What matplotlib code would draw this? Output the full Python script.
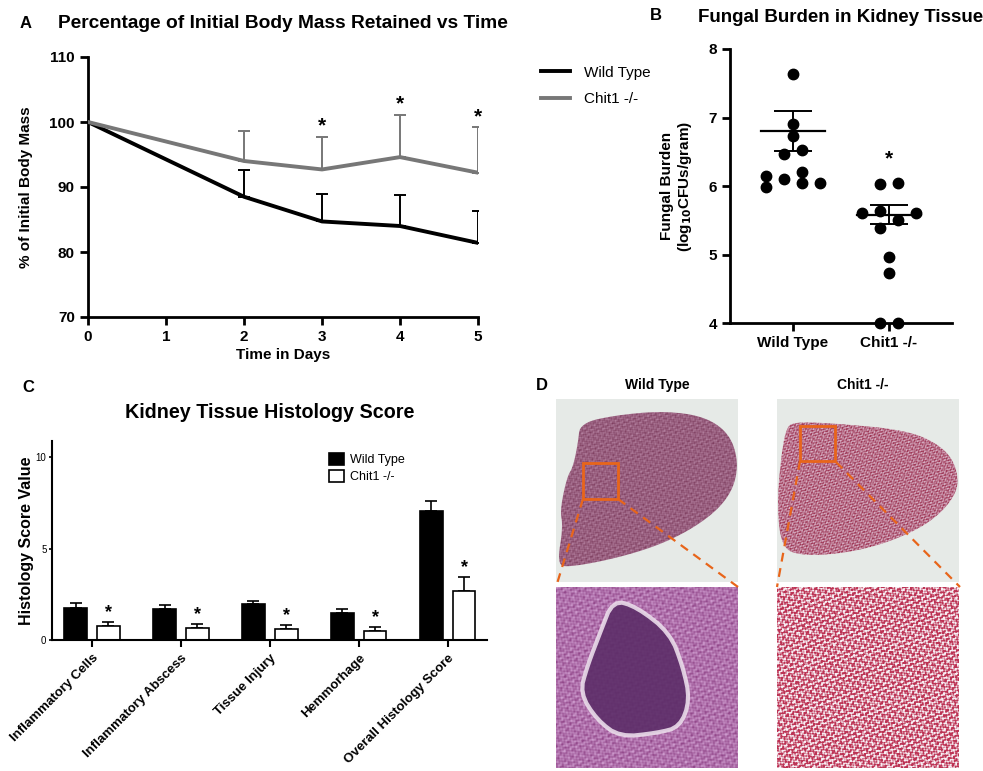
import numpy as np
import matplotlib
matplotlib.use("Agg")
import matplotlib.pyplot as plt
from matplotlib.patches import Polygon, Rectangle
from matplotlib.lines import Line2D

plt.rcParams['font.family'] = ['Liberation Sans', 'DejaVu Sans']

W, H = 983, 771

# A - body mass over time
days = [0, 2, 3, 4, 5]
wt_mass = [100, 88.5, 84.7, 84.0, 81.4]
wt_mass_err = [0, 4.1, 4.3, 4.7, 4.9]
ko_mass = [100, 94.0, 92.7, 94.6, 92.2]
ko_mass_err = [0, 4.6, 5.0, 6.5, 7.0]
mass_sig_days = [3, 4, 5]

# B - fungal burden
groups_b = ['Wild Type', 'Chit1 -/-']
wt_cfu = [7.63, 6.91, 6.73, 6.46, 6.52, 6.15, 5.99, 6.10, 6.20, 6.04, 6.04]
ko_cfu = [6.03, 6.05, 5.60, 5.63, 5.51, 5.60, 5.39, 4.96, 4.73, 4.0, 4.0]
cfu_mean = [6.80, 5.58]
cfu_sem = [0.29, 0.14]
# swarm slots (dot columns) used by the scatter
wt_slots = [0, 0, 0, -1, 1, -3, -3, -1, 1, 1, 3]
ko_slots = [-1, 1, -3, -1, 1, 3, -1, 0, 0, -1, 1]

# C - histology score
categories = ['Inflammatory Cells', 'Inflammatory Abscess', 'Tissue Injury',
              'Hemmorhage', 'Overall Histology Score']
wt_score = [1.76, 1.69, 1.96, 1.50, 7.05]
wt_score_err = [0.24, 0.22, 0.19, 0.19, 0.58]
ko_score = [0.77, 0.68, 0.59, 0.50, 2.68]
ko_score_err = [0.22, 0.22, 0.22, 0.23, 0.77]


def px_axes(l, t, r, b):
    return fig.add_axes([l / W, 1 - b / H, (r - l) / W, (b - t) / H])


def ftext(x, y, s, **kw):
    fig.text(x / W, 1 - y / H, s, **kw)


fig = plt.figure(figsize=(W / 100, H / 100), dpi=100)

# ---------------- panel A
ax = px_axes(88, 57, 478, 317)
ax.plot(days, wt_mass, color='black', lw=2.8, label='Wild Type', zorder=3)
ax.plot(days, ko_mass, color='#777777', lw=2.8, label='Chit1 -/-', zorder=3)
ax.errorbar(days[1:], wt_mass[1:], yerr=[[0] * 4, wt_mass_err[1:]], fmt='none',
            ecolor='black', elinewidth=1.4, capsize=4, capthick=1.4)
ax.errorbar(days[1:], ko_mass[1:], yerr=[[0] * 4, ko_mass_err[1:]], fmt='none',
            ecolor='#777777', elinewidth=1.4, capsize=4, capthick=1.4)
for d in mass_sig_days:
    i = days.index(d)
    ax.text(d, ko_mass[i] + ko_mass_err[i] + 0.2, '*', ha='center', va='bottom',
            fontsize=15, fontweight='bold')
ax.set_xlim(0, 5)
ax.set_ylim(70, 110)
ax.set_xticks(range(6))
ax.set_yticks([70, 80, 90, 100, 110])
ax.spines[['top', 'right']].set_visible(False)
ax.spines[['left', 'bottom']].set_linewidth(2)
ax.tick_params(width=2, length=6, labelsize=11)
for lab in ax.get_xticklabels() + ax.get_yticklabels():
    lab.set_fontweight('bold')
ax.set_xlabel('Time in Days', fontsize=11, fontweight='bold', labelpad=3)
ax.set_ylabel('% of Initial Body Mass', fontsize=11, fontweight='bold', labelpad=12)
ax.legend(loc='upper left', bbox_to_anchor=(527 / W, 1 - 52 / H),
          bbox_transform=fig.transFigure, frameon=False, fontsize=11,
          handlelength=1.9, handletextpad=0.9, labelspacing=0.8)
ftext(20, 23, 'A', fontsize=12, fontweight='bold', va='center')
ftext(283, 23, 'Percentage of Initial Body Mass Retained vs Time', fontsize=13.8,
      fontweight='bold', ha='center', va='center')

# ---------------- panel B
axb = px_axes(730, 49, 952, 323)
step = 0.094
for gi, (vals, slots) in enumerate([(wt_cfu, wt_slots), (ko_cfu, ko_slots)]):
    xs = [gi + s * step for s in slots]
    axb.plot(xs, vals, 'o', color='black', ms=7.5, clip_on=False, zorder=3)
    axb.plot([gi - 0.33, gi + 0.33], [cfu_mean[gi]] * 2, color='black', lw=1.6)
    axb.errorbar(gi, cfu_mean[gi], yerr=cfu_sem[gi], fmt='none', ecolor='black',
                 elinewidth=1.4, capsize=14, capthick=1.4)
axb.text(1, 6.25, '*', ha='center', va='bottom', fontsize=15, fontweight='bold')
axb.set_xlim(-0.656, 1.656)
axb.set_ylim(4, 8)
axb.set_xticks([0, 1])
axb.set_xticklabels(groups_b)
axb.set_yticks([4, 5, 6, 7, 8])
axb.spines[['top', 'right']].set_visible(False)
axb.spines[['left', 'bottom']].set_linewidth(2)
axb.tick_params(width=2, length=6, labelsize=11)
for lab in axb.get_xticklabels() + axb.get_yticklabels():
    lab.set_fontweight('bold')
axb.set_ylabel('Fungal Burden\n(log$_{\\mathbf{10}}$CFUs/gram)', fontsize=11,
               fontweight='bold', labelpad=10)
ftext(650, 15, 'B', fontsize=12, fontweight='bold', va='center')
ftext(841, 17, 'Fungal Burden in Kidney Tissue', fontsize=13.5,
      fontweight='bold', ha='center', va='center')

# ---------------- panel C
axc = px_axes(52, 441, 487, 640)
x = np.arange(len(categories))
bw = 0.25
axc.bar(x - 0.185, wt_score, bw, color='black', edgecolor='black', lw=1.2,
        label='Wild Type', zorder=2)
axc.bar(x + 0.185, ko_score, bw, color='white', edgecolor='black', lw=1.2,
        label='Chit1 -/-', zorder=2)
axc.errorbar(x - 0.185, wt_score, yerr=[[0] * 5, wt_score_err], fmt='none',
             ecolor='black', elinewidth=1.2, capsize=4, capthick=1.2, zorder=1)
axc.errorbar(x + 0.185, ko_score, yerr=[[0] * 5, ko_score_err], fmt='none',
             ecolor='black', elinewidth=1.2, capsize=4, capthick=1.2, zorder=1)
for i in range(len(categories)):
    axc.text(x[i] + 0.185, ko_score[i] + ko_score_err[i] + 0.05, '*', ha='center',
             va='bottom', fontsize=13, fontweight='bold')
axc.set_xlim(-0.45, 4.44)
axc.set_ylim(0, 10.9)
axc.set_xticks(x)
axc.set_xticklabels(categories, rotation=45, ha='right', rotation_mode='anchor',
                    fontsize=9.5, fontweight='bold')
axc.set_yticks([0, 5, 10])
axc.spines[['top', 'right']].set_visible(False)
axc.spines[['left', 'bottom']].set_linewidth(1.5)
axc.tick_params(axis='y', width=1.2, length=2.5, pad=1.5, labelsize=7)
axc.tick_params(axis='x', width=1.5, length=5)
axc.set_ylabel('Histology Score Value', fontsize=11.5, fontweight='bold', labelpad=1.5)
axc.legend(loc='upper left', bbox_to_anchor=(318 / W, 1 - 442 / H),
           bbox_transform=fig.transFigure, frameon=False, fontsize=9,
           handlelength=1.2, handleheight=1.1, handletextpad=0.5, labelspacing=0.3)
ftext(22, 388, 'C', fontsize=12, fontweight='bold', va='center')
ftext(270, 412, 'Kidney Tissue Histology Score', fontsize=14.2,
      fontweight='bold', ha='center', va='center')

# ---------------- panel D (schematic of the histology images)
axd = fig.add_axes([0, 0, 1, 1])
axd.patch.set_visible(False)

waves = [(1.00, 0.31, 0.0), (0.47, 1.13, 1.1), (-0.83, 0.61, 2.3),
         (0.29, -0.97, 0.7), (1.37, 0.89, 1.9), (-0.53, -1.41, 2.9),
         (2.11, -0.37, 0.4), (-0.19, 2.23, 1.6)]


def texture(h, w, dark, light, scale, sharp, bias=0.0):
    yy, xx = np.mgrid[0:h, 0:w] / scale
    n = sum(np.sin(a * xx + b * yy + p) for a, b, p in waves) / len(waves)
    t = np.clip(0.5 + (n + bias) * sharp, 0, 1)
    dark = np.array(dark)
    light = np.array(light)
    return dark * (1 - t)[..., None] + light * t[..., None]


def smooth(pts, n=3):
    pts = np.asarray(pts, float)
    for _ in range(n):
        nxt = np.roll(pts, -1, axis=0)
        pts = np.column_stack([0.75 * pts + 0.25 * nxt, 0.25 * pts + 0.75 * nxt]).reshape(-1, 2)
    return pts


def kidney(poly_pts, l, t, r, b, dark, light, scale, sharp, bias=0.0):
    im = axd.imshow(texture(b - t, r - l, dark, light, scale, sharp, bias),
                    extent=(l, r, b, t), aspect='auto', interpolation='bilinear',
                    zorder=1)
    p = Polygon(smooth(poly_pts), closed=True, fc='none', ec='none')
    axd.add_patch(p)
    im.set_clip_path(p)


for l in (556, 777):
    axd.add_patch(Rectangle((l, 399), 182, 183, color='#e6eae7', lw=0, zorder=0))

wt_kidney = [(580, 423), (617, 415), (663, 411), (703, 416), (728, 432), (738, 458),
             (735, 485), (720, 508), (692, 529), (657, 546), (613, 559), (570, 567),
             (557, 565), (563, 527), (560, 510), (567, 477), (573, 467), (578, 443)]
ko_kidney = [(792, 422), (830, 423), (907, 430), (942, 446), (957, 467), (958, 493),
             (932, 522), (890, 542), (847, 553), (803, 556), (781, 548), (777, 500),
             (782, 450), (786, 430)]
kidney(wt_kidney, 556, 399, 738, 582, (0.50, 0.25, 0.38), (0.70, 0.50, 0.62), 0.8, 0.7)
kidney(ko_kidney, 777, 399, 959, 582, (0.62, 0.22, 0.34), (0.84, 0.68, 0.76), 0.6, 1.0)

# zoomed panels
axd.imshow(texture(181, 182, (0.58, 0.29, 0.55), (0.80, 0.60, 0.80), 1.0, 0.8),
           extent=(556, 738, 768, 587), aspect='auto', interpolation='bilinear',
           zorder=1)
axd.imshow(texture(181, 182, (0.74, 0.20, 0.33), (0.97, 0.94, 0.96), 0.9, 1.8, -0.04),
           extent=(777, 959, 768, 587), aspect='auto', interpolation='bilinear',
           zorder=1)
blob = [(613, 600), (637, 607), (670, 633), (683, 667), (690, 700), (680, 727),
        (657, 733), (620, 737), (597, 720), (580, 693), (587, 667), (600, 633)]
axd.add_patch(Polygon(smooth(blob, 2), closed=True, fc='#5c2d68', ec='#eadcea',
                      lw=3, alpha=0.9, zorder=2))

# orange boxes and zoom lines
orange = '#e8651a'
axd.add_patch(Rectangle((583, 463), 35, 36, fc='none', ec=orange, lw=2, zorder=3))
axd.add_patch(Rectangle((800, 426), 35, 35, fc='none', ec=orange, lw=2, zorder=3))
for (x0, y0), (x1, y1) in [((583, 499), (556, 587)), ((618, 499), (738, 587)),
                           ((800, 461), (777, 587)), ((836, 462), (960, 587))]:
    axd.add_line(Line2D([x0, x1], [y0, y1], color=orange, lw=1.6, ls=(0, (4, 3)),
                        zorder=3))

axd.set_xlim(0, W)
axd.set_ylim(H, 0)
axd.axis('off')

ftext(536, 385, 'D', fontsize=12, fontweight='bold', va='center')
ftext(657, 385, 'Wild Type', fontsize=10, fontweight='bold', ha='center', va='center')
ftext(863, 385, 'Chit1 -/-', fontsize=10, fontweight='bold', ha='center', va='center')

fig.savefig('out.png', dpi=100)
